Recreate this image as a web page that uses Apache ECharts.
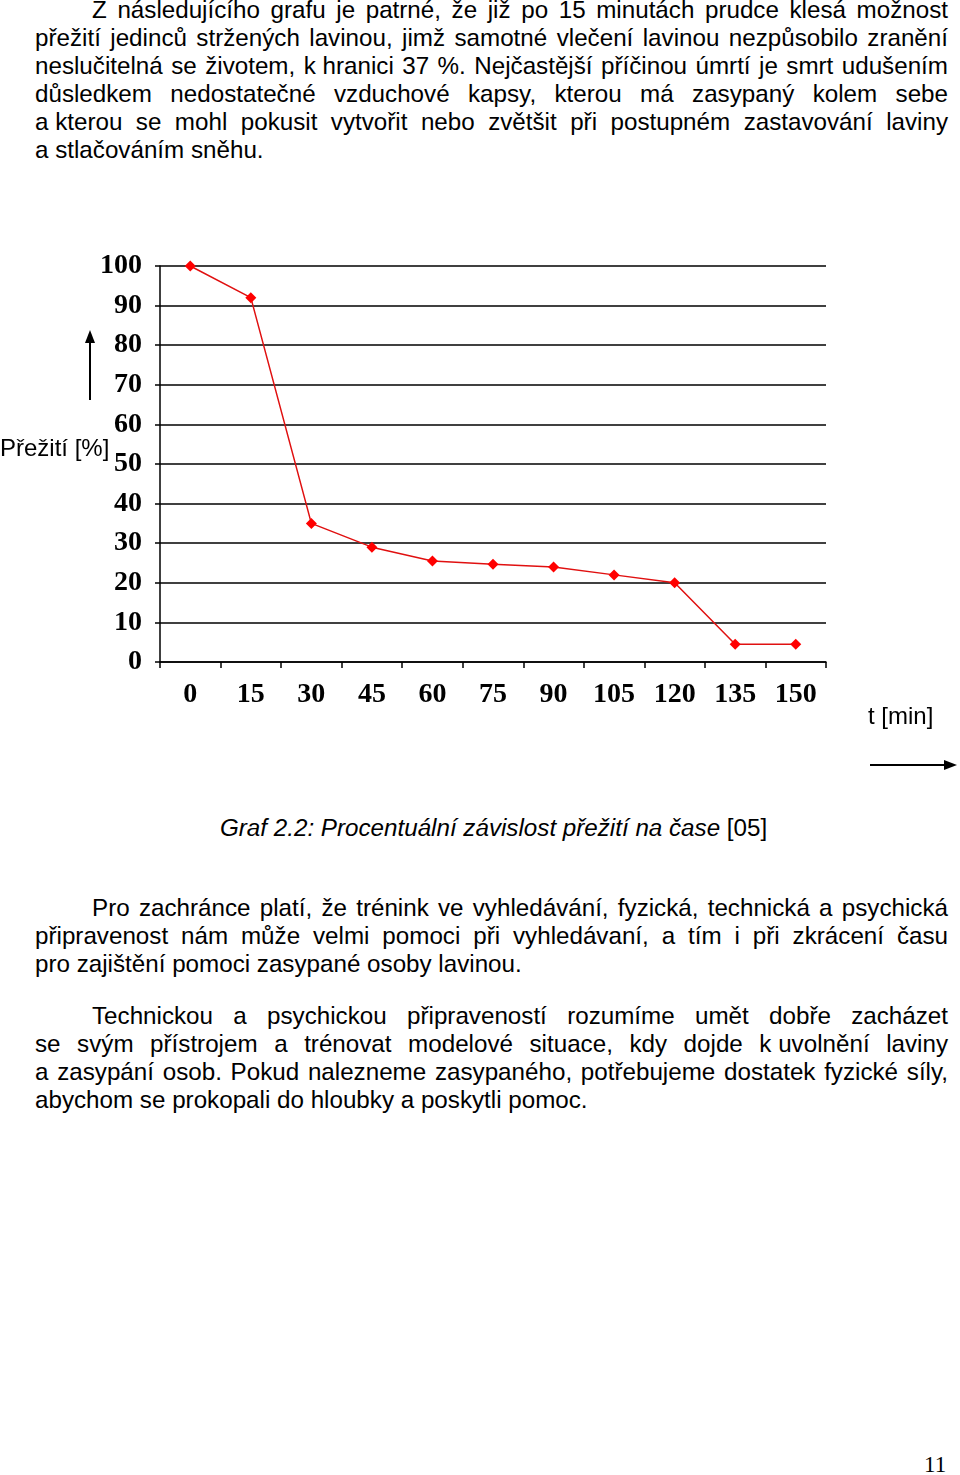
<!DOCTYPE html>
<html><head><meta charset="utf-8">
<script src="https://cdn.jsdelivr.net/npm/echarts@6/dist/echarts.min.js"></script>
<style>
html,body{margin:0;padding:0;background:#fff;}
#page{position:relative;width:960px;height:1475px;overflow:hidden;font-family:"Liberation Sans",Arial,sans-serif;color:#000;}
.ln{position:absolute;left:35px;width:913px;font-size:24.2px;line-height:28px;height:28px;white-space:nowrap;text-align:justify;text-align-last:justify;}
.ln.ind{left:92px;width:856px;}
.ln.last{text-align:left;text-align-last:left;}
.nb{display:inline-block;}
#chart{position:absolute;left:0;top:200px;width:960px;height:600px;}
#cap{position:absolute;left:220px;top:814px;font-size:24.2px;line-height:28px;white-space:nowrap;}
#pg{position:absolute;left:924px;top:1451px;font-family:"Liberation Serif","Times New Roman",serif;font-size:23px;line-height:28px;}
</style></head>
<body><div id="page">
<div class="ln ind" style="top:-4px">Z následujícího grafu je patrné, že již po 15 minutách prudce klesá možnost</div>
<div class="ln" style="top:24px">přežití jedinců stržených lavinou, jimž samotné vlečení lavinou nezpůsobilo zranění</div>
<div class="ln" style="top:52px">neslučitelná se životem, <span class="nb">k hranici</span> 37 %. Nejčastější příčinou úmrtí je smrt udušením</div>
<div class="ln" style="top:80px">důsledkem nedostatečné vzduchové kapsy, kterou má zasypaný kolem sebe</div>
<div class="ln" style="top:108px"><span class="nb">a kterou</span> se mohl pokusit vytvořit nebo zvětšit při postupném zastavování laviny</div>
<div class="ln last" style="top:136px">a stlačováním sněhu.</div>

<div id="chart"></div>
<div id="cap"><i>Graf 2.2: Procentuální závislost přežití na čase</i> [05]</div>

<div class="ln ind" style="top:894px">Pro zachránce platí, že trénink ve vyhledávání, fyzická, technická a psychická</div>
<div class="ln" style="top:922px">připravenost nám může velmi pomoci při vyhledávaní, a tím i při zkrácení času</div>
<div class="ln last" style="top:950px">pro zajištění pomoci zasypané osoby lavinou.</div>

<div class="ln ind" style="top:1002px">Technickou a psychickou připraveností rozumíme umět dobře zacházet</div>
<div class="ln" style="top:1030px">se svým přístrojem a trénovat modelové situace, kdy dojde <span class="nb">k uvolnění</span> laviny</div>
<div class="ln" style="top:1058px">a zasypání osob. Pokud nalezneme zasypaného, potřebujeme dostatek fyzické síly,</div>
<div class="ln last" style="top:1086px">abychom se prokopali do hloubky a poskytli pomoc.</div>

<div id="pg">11</div>
</div>
<script>
var categories = ['0','15','30','45','60','75','90','105','120','135','150'];
var survival = [100, 92, 35, 29, 25.5, 24.7, 24, 22, 20, 4.5, 4.5];
var yMin = 0, yMax = 100, yStep = 10;

var chart = echarts.init(document.getElementById('chart'), null, {renderer:'canvas'});
var tickFont = {fontFamily:'"Liberation Serif","Times New Roman",serif', fontWeight:'bold', fontSize:28, color:'#000'};
chart.setOption({
  animation:false,
  grid:{left:160, top:66, width:666, height:396, containLabel:false},
  xAxis:{
    type:'category', data:categories, boundaryGap:true,
    axisLine:{show:true, lineStyle:{color:'#000', width:1.5}},
    axisTick:{show:true, alignWithLabel:false, length:6, lineStyle:{color:'#000', width:1.5}},
    axisLabel:Object.assign({margin:19, interval:0}, tickFont),
    splitLine:{show:false}
  },
  yAxis:{
    type:'value', min:yMin, max:yMax, interval:yStep,
    axisLine:{show:true, lineStyle:{color:'#000', width:1.5}},
    axisTick:{show:true, length:5, lineStyle:{color:'#000', width:1.5}},
    axisLabel:Object.assign({margin:18}, tickFont),
    splitLine:{show:true, lineStyle:{color:'#000', width:1.5}}
  },
  series:[{
    type:'line', data:survival,
    symbol:'diamond', symbolSize:11,
    lineStyle:{color:'#e01010', width:1.5},
    itemStyle:{color:'#ff0000'}
  }],
  graphic:[
    {type:'text', left:0, top:237, style:{text:'Přežití [%]', font:'24px "Liberation Sans", Arial, sans-serif', fill:'#000'}},
    {type:'line', shape:{x1:90, y1:200, x2:90, y2:140}, style:{stroke:'#000', lineWidth:2}},
    {type:'polygon', shape:{points:[[90,130],[85,143],[95,143]]}, style:{fill:'#000'}},
    {type:'text', left:868, top:505, style:{text:'t [min]', font:'24px "Liberation Sans", Arial, sans-serif', fill:'#000'}},
    {type:'line', shape:{x1:870, y1:565, x2:946, y2:565}, style:{stroke:'#000', lineWidth:2}},
    {type:'polygon', shape:{points:[[957,565],[944,560],[944,570]]}, style:{fill:'#000'}}
  ]
});
</script>
</body></html>
